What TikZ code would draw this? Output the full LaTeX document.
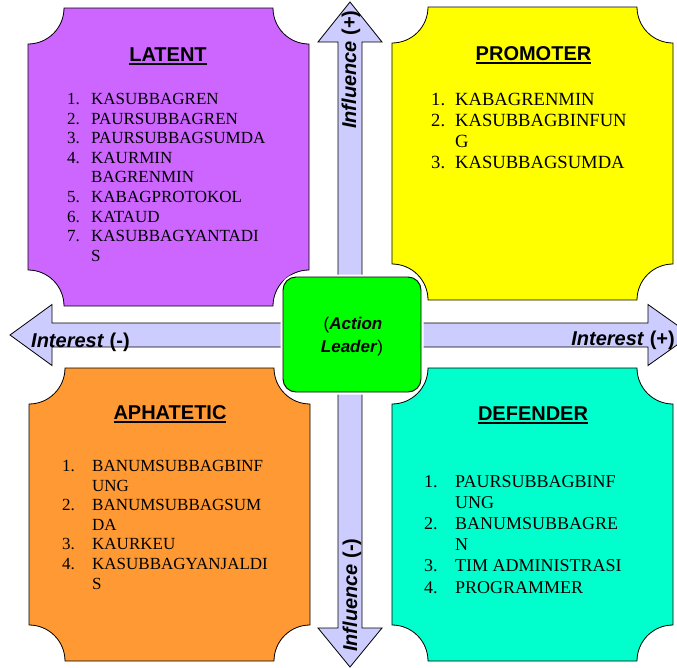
\documentclass[tikz,border=0pt]{standalone}
\usepackage{fontspec}
\setmainfont{Liberation Serif}
\setsansfont{Liberation Sans}

\definecolor{latentc}{HTML}{CC66FF}
\definecolor{promoterc}{HTML}{FFFF00}
\definecolor{aphateticc}{HTML}{FF9933}
\definecolor{defenderc}{HTML}{00FFCC}
\definecolor{leaderc}{HTML}{00FF00}
\definecolor{axisc}{HTML}{CCCCFF}

% plaque: rectangle with concave quarter-circle corners
% #1 fill, #2 left, #3 top, #4 right, #5 bottom, #6 corner radius
\newcommand\plaquebox[6]{%
  \filldraw[fill=#1, draw=black, line width=0.8pt]
    (#2+#6,#3) -- (#4-#6,#3)
    .. controls (#4-#6,#3+0.5523*#6) and (#4-0.5523*#6,#3+#6) .. (#4,#3+#6)
    -- (#4,#5-#6)
    .. controls (#4-0.5523*#6,#5-#6) and (#4-#6,#5-0.5523*#6) .. (#4-#6,#5)
    -- (#2+#6,#5)
    .. controls (#2+#6,#5-0.5523*#6) and (#2+0.5523*#6,#5-#6) .. (#2,#5-#6)
    -- (#2,#3+#6)
    .. controls (#2+0.5523*#6,#3+#6) and (#2+#6,#3+0.5523*#6) .. cycle;}

% thick underline for the quadrant titles
\newcommand\ultitle[1]{\setbox0\hbox{#1}\rlap{\rule[-3.8pt]{\wd0}{2.2pt}}\box0}

\tikzset{
  title/.style={font=\sffamily\bfseries\fontsize{20}{24}\selectfont, inner sep=0pt, anchor=base},
  axislabel/.style={font=\sffamily\bfseries\fontsize{20}{24}\selectfont, inner sep=0pt},
  itemlist/.style={inner sep=0pt, anchor=base west},
  axisarrow/.style={fill=axisc, draw=black, line width=0.8pt, line join=miter},
  leaderbox/.style={fill=leaderc, draw=black, line width=0.9pt, rounded corners=13pt,
    preaction={draw=white, line width=5pt}},
  leadertext/.style={font=\sffamily\fontsize{17}{22}\selectfont, inner sep=0pt, anchor=base},
}

\begin{document}
\begin{tikzpicture}[x=1pt, y=-1pt]
\clip (0,0) rectangle (677,667);
\fill[white] (0,0) rectangle (677,667);

% quadrants
\plaquebox{latentc}{28}{8}{309}{306}{36}
\plaquebox{promoterc}{392}{7}{673}{300}{36}
\plaquebox{aphateticc}{29}{368}{310}{661}{36}
\plaquebox{defenderc}{392}{368}{673}{661}{36}

% influence axis (vertical double arrow)
\draw[axisarrow] (350,2) -- (382,42) -- (362,42) -- (362,628) -- (382,628)
  -- (350,667) -- (318,628) -- (338,628) -- (338,42) -- (318,42) -- cycle;
% interest axis (horizontal double arrow)
\draw[axisarrow] (10,335) -- (52,304.5) -- (52,323) -- (648,323) -- (648,304.5)
  -- (691,335) -- (648,365.5) -- (648,347) -- (52,347) -- (52,365.5) -- cycle;

% centre box
\node[leaderbox, minimum width=138pt, minimum height=115pt] (leader) at (352,334.5) {};
\node[leadertext] (leaderA) at (353,329.3) {(\textbf{\textit{Action}}};
\node[leadertext] (leaderB) at (352,352.7) {\textbf{\textit{Leader}})};

% axis labels
\node[axislabel, anchor=base west] (intminus) at (31,347) {\textit{Interest} (-)};
\node[axislabel, anchor=base east] (intplus) at (675,345) {\textit{Interest} (+)};
\node[axislabel, anchor=base west, rotate=90] (inflplus) at (356,129) {\textit{Influence} (+)};
\node[axislabel, anchor=base west, rotate=90] (inflminus) at (357,652) {\textit{Influence} (-)};

% titles
\node[title] (latent) at (168,61) {\ultitle{LATENT}};
\node[title] (promoter) at (533.5,60) {\ultitle{PROMOTER}};
\node[title] (aphatetic) at (170,419) {\ultitle{APHATETIC}};
\node[title] (defender) at (533,420) {\ultitle{DEFENDER}};

% member lists
\node[itemlist, font=\fontsize{17}{19.6}\selectfont] (latentlist) at (67,104.5)
 {\begin{tabular}[t]{@{}r@{\hspace{11.25pt}}l@{}}
  1.&KASUBBAGREN\\
  2.&PAURSUBBAGREN\\
  3.&PAURSUBBAGSUMDA\\
  4.&KAURMIN\\
    &BAGRENMIN\\
  5.&KABAGPROTOKOL\\
  6.&KATAUD\\
  7.&KASUBBAGYANTADI\\
    &S
 \end{tabular}};

\node[itemlist, font=\fontsize{18.6}{21.3}\selectfont] (promoterlist) at (431,105)
 {\begin{tabular}[t]{@{}r@{\hspace{10pt}}l@{}}
  1.&KABAGRENMIN\\
  2.&KASUBBAGBINFUN\\
    &G\\
  3.&KASUBBAGSUMDA
 \end{tabular}};

\node[itemlist, font=\fontsize{17}{19.6}\selectfont] (aphateticlist) at (62,471.5)
 {\begin{tabular}[t]{@{}r@{\hspace{17.25pt}}l@{}}
  1.&BANUMSUBBAGBINF\\
    &UNG\\
  2.&BANUMSUBBAGSUM\\
    &DA\\
  3.&KAURKEU\\
  4.&KASUBBAGYANJALDI\\
    &S
 \end{tabular}};

\node[itemlist, font=\fontsize{18}{21.2}\selectfont] (defenderlist) at (424,487)
 {\begin{tabular}[t]{@{}r@{\hspace{17.5pt}}l@{}}
  1.&PAURSUBBAGBINF\\
    &UNG\\
  2.&BANUMSUBBAGRE\\
    &N\\
  3.&TIM ADMINISTRASI\\
  4.&PROGRAMMER
 \end{tabular}};
\end{tikzpicture}
\end{document}
